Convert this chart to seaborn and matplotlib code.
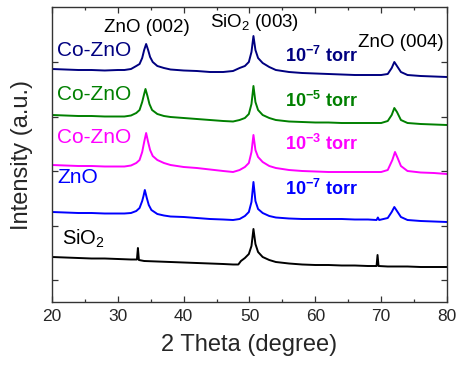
import matplotlib
matplotlib.use("Agg")
import matplotlib.pyplot as plt
import seaborn as sns
import pandas as pd

# ---------------- data (2 theta in degree, intensity in a.u., stacked) ----------------
theta_co7 = [20, 22, 24, 26, 28, 30, 31, 32, 32.8, 33.3, 33.7, 34.0, 34.3, 34.6, 34.9, 35.3, 36, 37, 38,
             40, 42, 44, 46, 47.5, 48.5, 49.3, 49.9, 50.3, 50.6, 50.9, 51.3, 52, 53, 54, 56, 58, 60, 62,
             64, 66, 68, 70, 71, 71.6, 72.0, 72.4, 73, 74, 76, 78, 80]
int_co7 = [233, 232.5, 232, 232, 231.5, 232, 232, 233, 236, 238, 244, 252, 258, 252, 245, 240, 236, 234, 232.5,
           231.5, 231, 230, 230, 231, 234, 236, 240, 250, 266, 252, 244, 239, 235, 232, 230, 229, 228.5, 228,
           227.5, 227, 227, 227, 228, 234, 240, 236, 230, 227, 226, 225.5, 225]

theta_co5 = [20, 22, 24, 26, 28, 30, 31, 32, 32.8, 33.3, 33.7, 34.0, 34.2, 34.5, 34.8, 35.2, 36, 37, 38,
             40, 42, 44, 46, 47.5, 48.5, 49.3, 49.9, 50.3, 50.6, 50.9, 51.3, 52, 53, 54, 56, 58, 60, 62,
             64, 66, 68, 70, 71, 71.6, 72.0, 72.4, 73, 74, 76, 78, 80]
int_co5 = [187, 186.5, 186, 186, 185.5, 185.5, 185.5, 186.5, 189, 192, 200, 208, 213, 206, 198, 192, 188, 186, 185,
           184, 183, 182, 181, 180.5, 182, 184, 188, 198, 216, 200, 192, 187, 184, 182, 180.5, 180, 179.5, 179.5,
           179, 179, 179, 179, 181, 187, 194, 190, 182, 179, 178, 177.5, 177]

theta_co3 = [20, 22, 24, 26, 28, 30, 31, 32, 32.8, 33.3, 33.7, 34.0, 34.3, 34.6, 34.9, 35.3, 36, 37, 38,
             40, 42, 44, 46, 47.5, 48.5, 49.3, 49.9, 50.3, 50.6, 50.9, 51.3, 52, 53, 54, 56, 58, 60, 62,
             64, 66, 68, 70, 71, 71.7, 72.1, 72.5, 73, 74, 76, 78, 80]
int_co3 = [137, 136.5, 136, 136, 135.5, 135.5, 135.5, 136.5, 139, 142, 150, 160, 169, 160, 152, 146, 142, 139, 137,
           135, 134, 132.5, 131, 130, 132, 135, 139, 150, 167, 152, 145, 140, 136, 134, 132, 131, 130.5, 130,
           130, 130, 130, 130, 132, 142, 150, 144, 136, 131, 129.5, 129, 128]

theta_zno = [20, 22, 24, 26, 28, 30, 31, 32, 32.8, 33.3, 33.7, 33.9, 34.1, 34.4, 34.7, 35.1, 36, 37, 38,
             40, 42, 44, 46, 47.5, 48.5, 49.3, 49.9, 50.3, 50.6, 50.9, 51.3, 52, 53, 54, 56, 58, 60, 62,
             64, 66, 68, 69.3, 69.5, 69.7, 71, 71.6, 72.0, 72.4, 73, 74, 76, 78, 80]
int_zno = [90, 89.5, 89, 89, 88.5, 88.5, 88.5, 89, 91, 94, 101, 106, 112, 104, 97, 92, 88, 86.5, 85.5,
           85, 84, 83, 82.5, 82, 83, 86, 90, 100, 120, 101, 93, 89, 86, 84.5, 83.5, 83, 83, 83,
           83, 82.5, 82.5, 82, 84.5, 82, 84, 90, 95, 91, 85, 82, 81, 80.5, 80]

theta_sio2 = [20, 22, 24, 26, 28, 30, 32, 32.9, 33.05, 33.2, 34, 36, 38, 40, 42, 44, 46, 47.5, 48.3, 48.7,
              49.3, 49.9, 50.3, 50.6, 50.9, 51.3, 52, 53, 54, 56, 58, 60, 62, 64, 66, 68, 69.3, 69.45, 69.6,
              71, 74, 76, 78, 80]
int_sio2 = [45, 44.5, 44, 43.5, 43.5, 43, 42.5, 42.5, 54, 42, 41, 40.5, 40, 39.5, 39, 38.5, 38, 37.5, 37.5, 41,
            44, 48, 56, 73, 58, 50, 45, 42, 40, 38.5, 37.5, 37, 37, 36.5, 36.5, 36, 36, 47, 36,
            35.5, 35.5, 35, 35, 35]

series_names = ["Co-ZnO 1e-7", "Co-ZnO 1e-5", "Co-ZnO 1e-3", "ZnO 1e-7", "SiO2"]
series_theta = [theta_co7, theta_co5, theta_co3, theta_zno, theta_sio2]
series_int = [int_co7, int_co5, int_co3, int_zno, int_sio2]
series_colors = ["#000080", "#008000", "#FF00FF", "#0000FF", "#000000"]

x_ticks = [20, 30, 40, 50, 60, 70, 80]

# ---------------- styling ----------------
sns.set_style("ticks")
plt.rcParams["font.family"] = ["Liberation Sans", "DejaVu Sans"]
plt.rcParams["mathtext.fontset"] = "custom"
plt.rcParams["mathtext.rm"] = "Liberation Sans"
plt.rcParams["mathtext.it"] = "Liberation Sans:italic"
plt.rcParams["mathtext.bf"] = "Liberation Sans:bold"

fig = plt.figure(figsize=(4.58, 3.68), dpi=100)
ax = fig.add_axes([52 / 458, 66 / 368, 395 / 458, 295 / 368])

for name, th, it, col in zip(series_names, series_theta, series_int, series_colors):
    df = pd.DataFrame({"theta": th, "intensity": it})
    sns.lineplot(data=df, x="theta", y="intensity", color=col, lw=1.4, ax=ax,
                 sort=False, estimator=None)

ax.set_xlim(20, 80)
ax.set_ylim(0, 295)
ax.set_xticks(x_ticks)
ax.set_xticks([25, 35, 45, 55, 65, 75], minor=True)
ax.set_yticks([22, 76.5, 131, 185.5, 240])
ax.set_yticklabels([])
ax.tick_params(axis="both", which="both", direction="in", top=True, right=True, color="#333333")
ax.tick_params(axis="both", which="major", length=4, width=0.9)
ax.tick_params(axis="x", which="minor", length=2.5, width=0.9)
ax.tick_params(axis="x", labelsize=12.5, pad=5)
for s in ax.spines.values():
    s.set_linewidth(1.0)
    s.set_color("#333333")

ax.set_xlabel("2 Theta (degree)", fontsize=17, labelpad=7)
ax.set_ylabel("Intensity (a.u.)", fontsize=17, labelpad=10)

# peak labels
ax.text(34.4, 270, "ZnO (002)", fontsize=13.5, ha="center", va="baseline", color="black")
ax.text(50.8, 275, "SiO$_2$ (003)", fontsize=13.5, ha="center", va="baseline", color="black")
ax.text(73.0, 255, "ZnO (004)", fontsize=13.5, ha="center", va="baseline", color="black")

# sample labels
ax.text(20.76, 246, "Co-ZnO", fontsize=15, color="#000080", va="baseline")
ax.text(20.76, 202, "Co-ZnO", fontsize=15, color="#008000", va="baseline")
ax.text(20.76, 159, "Co-ZnO", fontsize=15, color="#FF00FF", va="baseline")
ax.text(20.76, 119, "ZnO", fontsize=15, color="#0000FF", va="baseline")
ax.text(21.5, 57, "SiO$_2$", fontsize=14.5, color="black", va="baseline")

# pressure labels
ax.text(55.4, 240, r"10$^{\mathbf{-7}}$ torr", fontsize=13, fontweight="bold", color="#000080", va="baseline")
ax.text(55.4, 195, r"10$^{\mathbf{-5}}$ torr", fontsize=13, fontweight="bold", color="#008000", va="baseline")
ax.text(55.4, 152, r"10$^{\mathbf{-3}}$ torr", fontsize=13, fontweight="bold", color="#FF00FF", va="baseline")
ax.text(55.4, 107, r"10$^{\mathbf{-7}}$ torr", fontsize=13, fontweight="bold", color="#0000FF", va="baseline")

fig.savefig("out.png", dpi=100)
